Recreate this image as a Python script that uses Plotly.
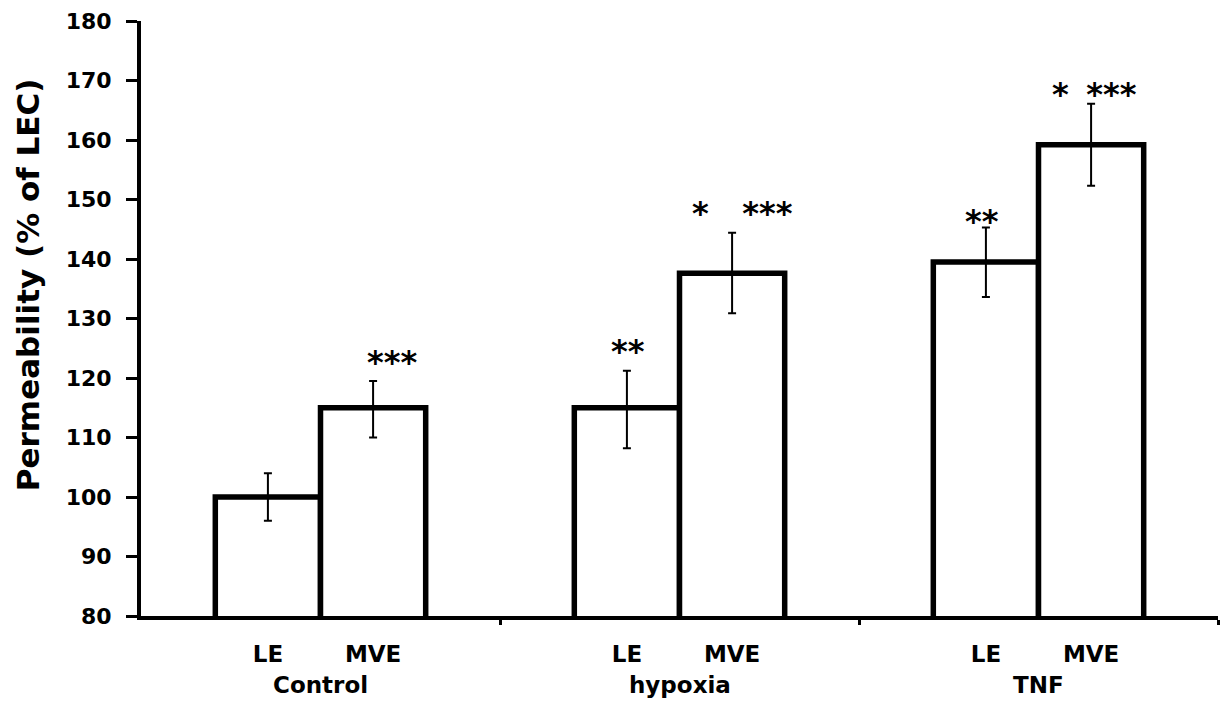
import plotly.graph_objects as go

groups = ["Control", "hypoxia", "TNF"]
cell_types = ["LE", "MVE"]
le_values = [100, 115, 139.5]
mve_values = [115, 137.6, 159.2]
le_err_hi = [4, 6.2, 5.8]
le_err_lo = [4, 6.8, 5.9]
mve_err_hi = [4.5, 6.8, 6.9]
mve_err_lo = [5, 6.7, 6.9]
le_stars = ["", "**", "**"]
mve_stars = ["***", "*\u00a0\u00a0\u00a0***", "*\u00a0\u2009***"]
y_ticks = [80, 90, 100, 110, 120, 130, 140, 150, 160, 170, 180]
y_title = "Permeability (% of LEC)"

BAR_W = 0.293
FONT = "DejaVu Sans"

gi = list(range(len(groups)))
x_le = [i - BAR_W / 2 for i in gi]
x_mve = [i + BAR_W / 2 for i in gi]

fig = go.Figure()
for xs, ys, ehi, elo, name in [
    (x_le, le_values, le_err_hi, le_err_lo, "LE"),
    (x_mve, mve_values, mve_err_hi, mve_err_lo, "MVE"),
]:
    fig.add_trace(go.Bar(
        x=xs, y=ys, width=BAR_W, name=name,
        marker=dict(color="white", line=dict(color="black", width=5.5)),
        error_y=dict(type="data", symmetric=False, array=ehi, arrayminus=elo,
                     color="black", thickness=2, width=4),
        showlegend=False,
    ))

annotations = []
# significance stars placed relative to the top of each error bar (pixel shifts)
star_dy = {("LE", 1): 20, ("LE", 2): 6,
           ("MVE", 0): 19, ("MVE", 1): 20, ("MVE", 2): 10}
star_dx = {("LE", 1): 1, ("LE", 2): -4, ("MVE", 0): 19, ("MVE", 1): 10, ("MVE", 2): 3}
for i in gi:
    for kind, xs, vals, ehi, stars in [
        ("LE", x_le, le_values, le_err_hi, le_stars),
        ("MVE", x_mve, mve_values, mve_err_hi, mve_stars),
    ]:
        if stars[i]:
            annotations.append(dict(
                x=xs[i], y=vals[i] + ehi[i], xref="x", yref="y",
                text=stars[i], showarrow=False, xanchor="center", yanchor="middle",
                xshift=star_dx[(kind, i)], yshift=star_dy[(kind, i)],
                font=dict(family=FONT, size=32, color="black", weight="bold"),
            ))
for i, g in enumerate(groups):
    annotations.append(dict(
        x=i, y=0, xref="x", yref="paper", text=g, showarrow=False,
        xanchor="center", yanchor="middle", yshift=-69,
        font=dict(family=FONT, size=23, color="black", weight="bold"),
    ))
annotations.append(dict(
    x=0, y=0.556, xref="paper", yref="paper", text=y_title, showarrow=False,
    textangle=-90, xanchor="center", yanchor="middle", xshift=-113,
    font=dict(family=FONT, size=31, color="black", weight="bold"),
))

tick_pos = []
tick_txt = []
for i in gi:
    tick_pos += [x_le[i], x_mve[i]]
    tick_txt += cell_types

fig.update_layout(
    width=1221, height=703,
    margin=dict(l=141, r=3, t=21, b=87),
    paper_bgcolor="white", plot_bgcolor="white",
    barmode="overlay",
    annotations=annotations,
    xaxis=dict(
        range=[-0.5, 2.5], showgrid=False, zeroline=False, automargin=False,
        showline=True, linecolor="black", linewidth=4,
        tickmode="array", tickvals=tick_pos, ticktext=tick_txt,
        ticks="", ticklabelstandoff=14,
        tickfont=dict(family=FONT, size=23, color="black", weight="bold"),
        minor=dict(tickmode="array", tickvals=[0.5, 1.5, 2.5], ticks="outside",
                   ticklen=5, tickwidth=3, tickcolor="black"),
    ),
    yaxis=dict(
        range=[80, 180], showgrid=False, zeroline=False, automargin=False,
        showline=True, linecolor="black", linewidth=4,
        tickmode="array", tickvals=y_ticks,
        ticks="outside", ticklen=11, tickwidth=3, tickcolor="black",
        ticklabelstandoff=10,
        tickfont=dict(family=FONT, size=22, color="black", weight="bold"),
    ),
)

fig.write_html(
    "out.html",
    config={"displayModeBar": False},
    post_script="document.body.style.margin='0';document.body.style.overflow='hidden';",
)
